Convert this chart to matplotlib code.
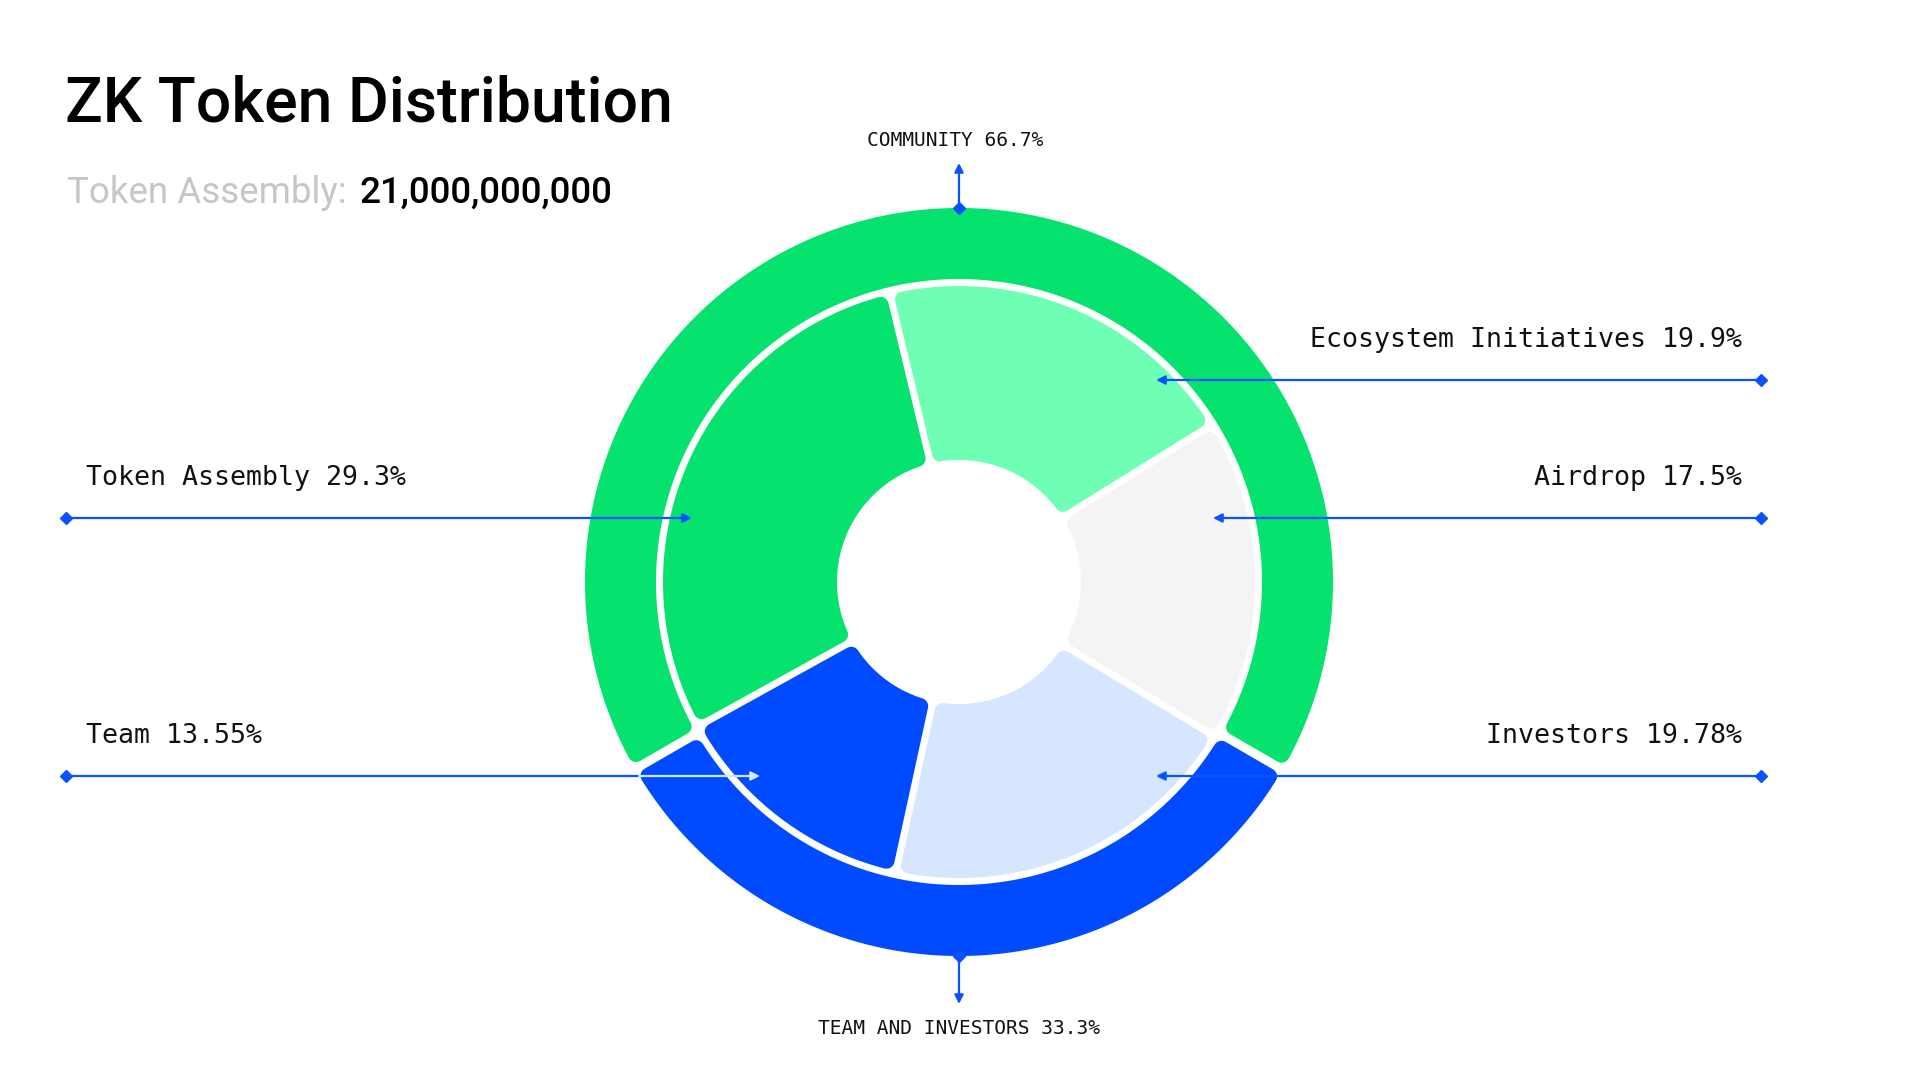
import numpy as np
import matplotlib
matplotlib.use("Agg")
import matplotlib.pyplot as plt
from matplotlib.patches import Polygon

# data
inner_labels = ["Ecosystem Initiatives", "Airdrop", "Investors", "Team", "Token Assembly"]
inner_values = [19.9, 17.5, 19.78, 13.55, 29.3]
inner_colors = ["#6FFFB4", "#F4F4F4", "#D6E6FF", "#004BFF", "#05E36E"]

outer_labels = ["COMMUNITY", "TEAM AND INVESTORS"]
outer_values = [66.7, 33.3]
outer_colors = ["#05E36E", "#004BFF"]

title = "ZK Token Distribution"
supply_label = "Token Assembly:"
supply_value = "21,000,000,000"

BLUE = "#0A52FF"
INK = "#111111"
MONO = "DejaVu Sans Mono"
SANS = "Roboto"

# geometry (pixels, y down)
cx, cy = 959, 582
inner_r = (122, 296)
outer_r = (303, 374)

fig = plt.figure(figsize=(19.2, 10.8), dpi=100)
ax = fig.add_axes([0, 0, 1, 1])
ax.set_xlim(0, 1920)
ax.set_ylim(1080, 0)
ax.axis("off")


def pt(r, deg):
    t = np.radians(deg)
    return cx + r * np.cos(t), cy - r * np.sin(t)


def sector(t_a, t_b, r0, r1, color, gap=7, rc=8):
    # rounded annular sector between angles t_a < t_b (counter-clockwise)
    d = gap / 2 + rc
    ri, ro = r0 + rc, r1 - rc
    a_o = np.degrees(np.arcsin(d / ro))
    a_i = np.degrees(np.arcsin(d / ri))
    to = np.linspace(t_a + a_o, t_b - a_o, 300)
    ti = np.linspace(t_b - a_i, t_a + a_i, 150)
    xo, yo = pt(ro, to)
    xi, yi = pt(ri, ti)
    poly = np.c_[np.r_[xo, xi], np.r_[yo, yi]]
    ax.add_patch(Polygon(poly, closed=True, fc=color, ec=color,
                         lw=2 * rc * 0.72, joinstyle="round", zorder=2))


def ring(values, colors, start, radii, gap):
    # clockwise from start angle
    total = sum(values)
    a = start
    for v, c in zip(values, colors):
        b = a - v / total * 360
        sector(b, a, radii[0], radii[1], c, gap=gap)
        a = b


ring(outer_values, outer_colors, 210, outer_r, gap=9)
ring(inner_values, inner_colors, 103.5, inner_r, gap=7)

# titles
ax.text(65, 122, title, fontsize=45, family=SANS, fontweight="medium",
        color="#000000", va="baseline", ha="left")
t1 = ax.text(67, 203, supply_label, fontsize=26.5, family=SANS,
             color="#C6C6CA", va="baseline", ha="left")
ax.annotate(supply_value, xy=(1, 0), xycoords=t1, xytext=(9, 0),
            textcoords="offset points", fontsize=26.5, family=SANS,
            fontweight="medium", color="#000000", va="bottom", ha="left")


def arrow(x0, y0, x1, y1, color=BLUE):
    ax.annotate("", xy=(x1, y1), xytext=(x0, y0),
                arrowprops=dict(arrowstyle="-|>", color=color, lw=1.6,
                                mutation_scale=13, shrinkA=0, shrinkB=0),
                zorder=5)


def diamond(x, y):
    ax.plot([x], [y], marker="D", ms=6, color=BLUE, zorder=6)


# inner ring callouts: (side, line y, arrow tip x)
callouts = {
    "Ecosystem Initiatives": ("right", 380, 1156),
    "Airdrop": ("right", 518, 1213),
    "Investors": ("right", 776, 1156),
    "Team": ("left", 776, 760),
    "Token Assembly": ("left", 518, 692),
}
x_left, x_right = 66, 1761

for lab, val in zip(inner_labels, inner_values):
    side, ly, tip = callouts[lab]
    txt = f"{lab} {val:g}%"
    if side == "right":
        arrow(x_right, ly, tip, ly)
        diamond(x_right, ly)
        ax.text(1742, ly - 40, txt, fontsize=19.2, family=MONO, color=INK,
                ha="right", va="center")
    else:
        if lab == "Team":
            # line turns pale where it crosses the blue outer ring
            edge = cx - np.sqrt(outer_r[1] ** 2 - (ly - cy) ** 2)
            ax.plot([x_left, edge], [ly, ly], color=BLUE, lw=1.6, zorder=5)
            arrow(edge, ly, tip, ly, color="#D6E6FF")
        else:
            arrow(x_left, ly, tip, ly)
        diamond(x_left, ly)
        ax.text(86, ly - 40, txt, fontsize=19.2, family=MONO, color=INK,
                ha="left", va="center")

# outer ring callouts
top_y = cy - outer_r[1]
bot_y = cy + outer_r[1]
arrow(cx, top_y, cx, top_y - 45)
diamond(cx, top_y)
ax.text(cx - 4, 140, f"{outer_labels[0]} {outer_values[0]:g}%", fontsize=14,
        family=MONO, color=INK, ha="center", va="center")
arrow(cx, bot_y, cx, bot_y + 48)
diamond(cx, bot_y)
ax.text(cx, 1029, f"{outer_labels[1]} {outer_values[1]:g}%", fontsize=14,
        family=MONO, color=INK, ha="center", va="center")

fig.savefig("out.png", dpi=100, facecolor="white")
